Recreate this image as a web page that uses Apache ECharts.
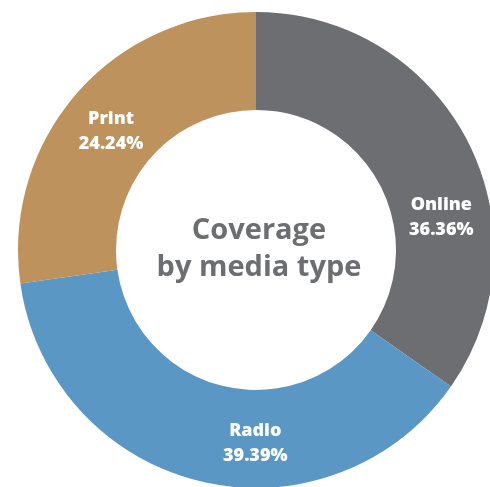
<!DOCTYPE html>
<html>
<head>
<meta charset="utf-8">
<script src="https://cdn.jsdelivr.net/npm/echarts@6/dist/echarts.min.js"></script>
<style>
html,body{margin:0;padding:0;background:#fff;}
#chart{width:490px;height:487px;}
</style>
</head>
<body>
<div id="chart"></div>
<script>
var categories = ['Online', 'Radio', 'Print'];
// slice shares as drawn in the picture (angles measured off the ring)
var values = [34.72, 38.04, 27.24];
// percentages as printed on the slices
var printedPercents = ['36.36%', '39.39%', '24.24%'];
var colors = ['#6d6e72', '#5b97c5', '#bd925c'];
var titleText = 'Coverage\nby media type';
// label nudges (px) relative to the slice centre
var labelShift = [[15, 56], [44, 7], [0, 7]];

var chart = echarts.init(document.getElementById('chart'));
chart.setOption({
  animation: false,
  title: {
    text: titleText,
    left: 254,
    top: 207,
    textAlign: 'center',
    textStyle: {
      fontFamily: 'Open Sans',
      fontWeight: 'bold',
      fontSize: 29,
      lineHeight: 37,
      color: '#6d6e72'
    }
  },
  series: [{
    type: 'pie',
    center: [256, 250],
    radius: [140, 238],
    startAngle: 90,
    clockwise: true,
    avoidLabelOverlap: false,
    itemStyle: { borderWidth: 0 },
    label: {
      show: true,
      position: 'inside',
      formatter: function (p) { return p.name + '\n' + printedPercents[p.dataIndex]; },
      color: '#ffffff',
      fontFamily: 'Open Sans',
      fontWeight: 800,
      fontSize: 18,
      lineHeight: 25
    },
    labelLine: { show: false },
    emphasis: { disabled: true },
    labelLayout: function (p) {
      var s = labelShift[p.dataIndex];
      return { dx: s[0], dy: s[1] };
    },
    data: categories.map(function (c, i) {
      return { name: c, value: values[i], itemStyle: { color: colors[i] } };
    })
  }]
});
</script>
</body>
</html>
